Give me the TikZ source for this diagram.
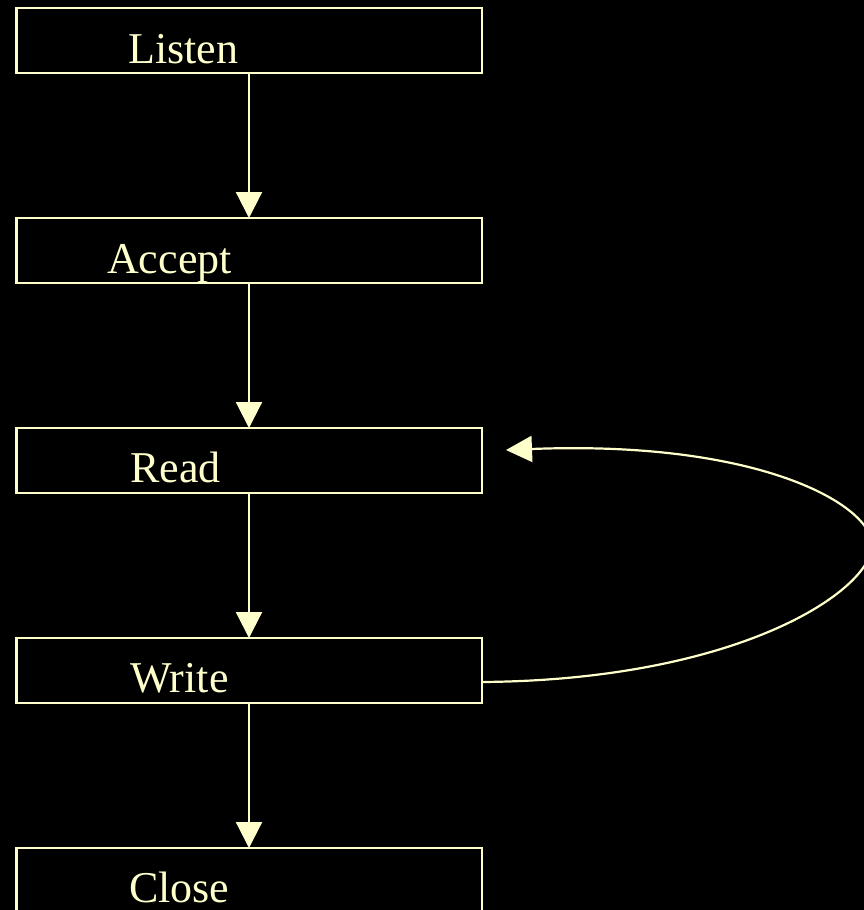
\documentclass[tikz,border=0pt]{standalone}
\usepackage{fontspec}
\setmainfont{Liberation Serif}
\usetikzlibrary{arrows.meta}
\definecolor{paleyellow}{RGB}{255,255,204}
\begin{document}
\begin{tikzpicture}[x=1pt,y=-1pt,
  stepbox/.style={draw=paleyellow,line width=2.2pt},
  steplabel/.style={anchor=base west,inner sep=0pt,text=paleyellow,font=\fontsize{44}{50}\selectfont},
  flow/.style={draw=paleyellow,line width=2.2pt,-{Triangle[length=26pt,width=26pt]}}]
  \fill[black] (0,0) rectangle (864,910);
  \useasboundingbox (0,0) rectangle (864,910);
  % boxes of the server loop
  \foreach \name/\top in {listen/8,accept/218,read/428,write/638,close/848}{
    \draw[stepbox] (16.5,\top) rectangle (482,\top+65);
    \coordinate (\name-n) at (249,\top);
    \coordinate (\name-s) at (249,\top+65);
    \coordinate (\name-e) at (482,\top+44);
  }
  \node[steplabel] (tlisten) at (128,63) {Listen};
  \node[steplabel] (taccept) at (107,273) {Accept};
  \node[steplabel] (tread) at (130,482) {Read};
  \node[steplabel] (twrite) at (130,692) {Write};
  \node[steplabel] (tclose) at (129,902) {Close};
  % straight connectors
  \draw[flow] (listen-s) -- (accept-n);
  \draw[flow] (accept-s) -- (read-n);
  \draw[flow] (read-s) -- (write-n);
  \draw[flow] (write-s) -- (close-n);
  % loop back from Write to Read
  \coordinate (looptip) at (506,450);
  \draw[flow] (write-e) .. controls (740,680) and (872,590) .. (872,545)
    .. controls (872,505) and (760,440) .. (looptip);
\end{tikzpicture}
\end{document}
